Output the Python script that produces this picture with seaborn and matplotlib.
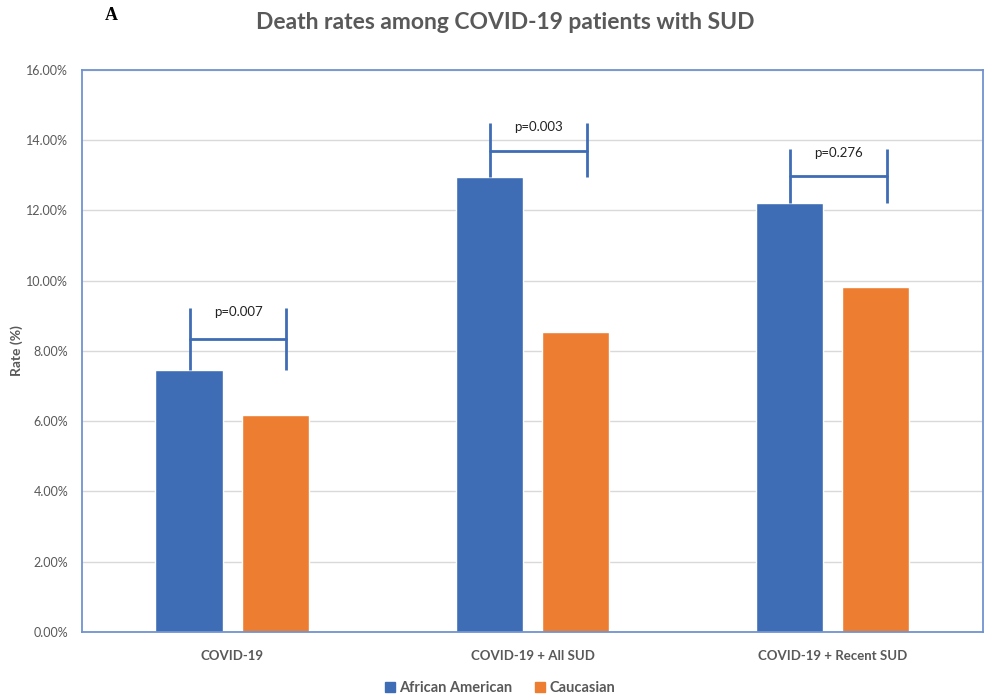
import pandas as pd
import numpy as np
import matplotlib
matplotlib.use('Agg')
import matplotlib.pyplot as plt
import seaborn as sns

# data
groups = ['COVID-19', 'COVID-19 + All SUD', 'COVID-19 + Recent SUD']
races = ['African American', 'Caucasian']
african_american = [7.47, 12.96, 12.20]
caucasian = [6.18, 8.55, 9.83]

# p-value brackets (top of bracket, horizontal bar level, in %)
p_labels = ['p=0.007', 'p=0.003', 'p=0.276']
bracket_top = [9.22, 14.49, 13.75]
bracket_mid = [8.34, 13.69, 12.98]

df = pd.DataFrame({
    'group': groups * 2,
    'race': [races[0]] * 3 + [races[1]] * 3,
    'rate': african_american + caucasian,
})

blue = '#3E6DB5'
orange = '#ED7D31'
grey = '#595959'

sns.set_style('white')
plt.rcParams['font.family'] = ['Lato', 'DejaVu Sans']

fig = plt.figure(figsize=(9.9, 6.99), dpi=100)
ax = fig.add_axes([0.0828, 0.0959, 0.9101, 0.8040])

sns.barplot(data=df, x='group', y='rate', hue='race', palette=[blue, orange],
            width=0.573, gap=0.218, saturation=1, ax=ax, legend=False)

# brackets from the African American bar to the right
for i in range(3):
    x0 = i - 0.141
    x1 = i + 0.18
    y_bot = african_american[i]
    ax.plot([x0, x0], [y_bot, bracket_top[i]], color=blue, lw=2, solid_capstyle='butt')
    ax.plot([x1, x1], [y_bot, bracket_top[i]], color=blue, lw=2, solid_capstyle='butt')
    ax.plot([x0, x1], [bracket_mid[i], bracket_mid[i]], color=blue, lw=2)
    ax.text((x0 + x1) / 2, bracket_top[i] - 0.12, p_labels[i], ha='center', va='center',
            fontsize=9.5, color='#222222')

ax.set_ylim(0, 16)
ax.set_xlim(-0.5, 2.5)
ax.set_yticks(np.arange(0, 17, 2))
ax.set_yticklabels([f'{v:.2f}%' for v in np.arange(0, 17, 2)])
ax.yaxis.grid(True, color='#D9D9D9', lw=1)
ax.set_axisbelow(True)
for s in ax.spines.values():
    s.set_visible(True)
    s.set_color('#6F93D0')
    s.set_linewidth(1.3)

ax.tick_params(axis='y', length=0, pad=10, labelsize=9, labelcolor=grey)
ax.tick_params(axis='x', length=0, pad=13, labelsize=9.5, labelcolor=grey)
for t in ax.get_xticklabels():
    t.set_fontweight('bold')
ax.set_xlabel('')
ax.set_ylabel('Rate (%)', fontsize=10, fontweight='bold', color=grey)
ax.yaxis.set_label_coords(-0.066, 0.5)

fig.text(0.51, 0.968, 'Death rates among COVID-19 patients with SUD', ha='center', va='center',
         fontsize=16.5, fontweight='bold', color=grey)
fig.text(0.112, 0.978, 'A', ha='center', va='center', fontsize=13, fontweight='bold',
         family='Liberation Serif', color='black')

handles = [plt.Rectangle((0, 0), 1, 1, color=c) for c in [blue, orange]]
leg = fig.legend(handles, races, loc='center', bbox_to_anchor=(0.505, 0.016), ncol=2,
                 frameon=False, handlelength=0.7, handleheight=0.7, handletextpad=0.3,
                 columnspacing=1.5, prop={'size': 10.5, 'weight': 'bold'})
for t in leg.get_texts():
    t.set_color(grey)

fig.savefig('out.png', dpi=100)
